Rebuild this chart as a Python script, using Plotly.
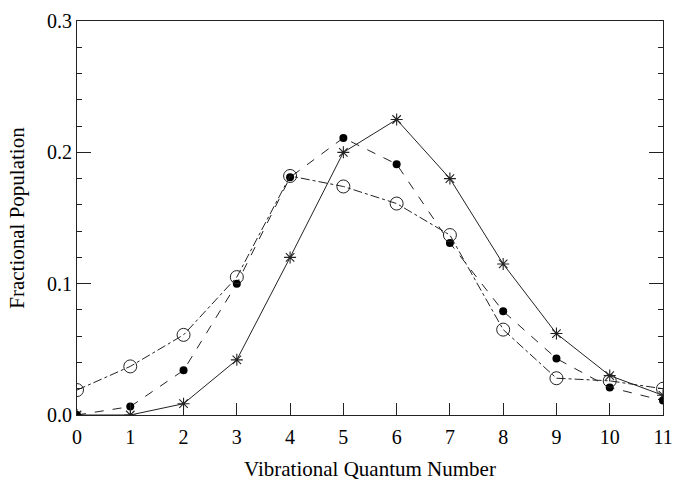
import plotly.graph_objects as go

quantum = [0, 1, 2, 3, 4, 5, 6, 7, 8, 9, 10, 11]
pop_star = [0.0, 0.0, 0.0086, 0.042, 0.120, 0.200, 0.225, 0.180, 0.115, 0.062, 0.030, 0.015]
pop_dot = [0.0, 0.0064, 0.034, 0.100, 0.181, 0.211, 0.191, 0.131, 0.079, 0.043, 0.021, 0.011]
pop_circle = [0.019, 0.037, 0.061, 0.105, 0.182, 0.174, 0.161, 0.137, 0.065, 0.028, 0.026, 0.020]

ink = "#222222"
font_family = "Liberation Serif"

fig = go.Figure()
fig.add_trace(go.Scatter(
    x=quantum, y=pop_star, mode="lines+markers",
    line=dict(color=ink, width=1, dash="solid"),
    marker=dict(symbol="asterisk-open", size=10, line=dict(color=ink, width=1.1)),
    showlegend=False))
fig.add_trace(go.Scatter(
    x=quantum, y=pop_dot, mode="lines+markers",
    line=dict(color=ink, width=1, dash="dash"),
    marker=dict(symbol="circle", size=8, color="black"),
    showlegend=False))
fig.add_trace(go.Scatter(
    x=quantum, y=pop_circle, mode="lines+markers",
    line=dict(color=ink, width=1, dash="dashdot"),
    marker=dict(symbol="circle-open", size=13, color=ink, line=dict(color=ink, width=1)),
    showlegend=False))

fig.update_layout(
    width=683, height=487,
    margin=dict(l=77, r=10, t=17, b=61),
    paper_bgcolor="white", plot_bgcolor="white",
    font=dict(family=font_family, size=19, color="black"),
)
fig.update_xaxes(
    range=[0, 11], tickmode="array", tickvals=quantum,
    ticktext=[str(q) for q in quantum],
    ticks="inside", ticklen=12, tickwidth=1, tickcolor=ink,
    ticklabelstandoff=4,
    showline=True, linecolor=ink, linewidth=1, mirror=True,
    showgrid=False, zeroline=False,
    title=dict(text="Vibrational Quantum Number", font=dict(family=font_family, size=21), standoff=14),
    tickfont=dict(family=font_family, size=20),
)
fig.update_yaxes(
    range=[0, 0.3], tickmode="array", tickvals=[0.0, 0.1, 0.2, 0.3],
    ticktext=["0.0", "0.1", "0.2", "0.3"],
    ticks="inside", ticklen=14, tickwidth=1, tickcolor=ink,
    minor=dict(dtick=0.02, tick0=0, ticks="inside", ticklen=5, tickcolor=ink, showgrid=False),
    showline=True, linecolor=ink, linewidth=1, mirror="ticks",
    showgrid=False, zeroline=False,
    title=dict(text="Fractional Population", font=dict(family=font_family, size=21), standoff=16),
    tickfont=dict(family=font_family, size=20),
)

fig.write_html("out.html")
